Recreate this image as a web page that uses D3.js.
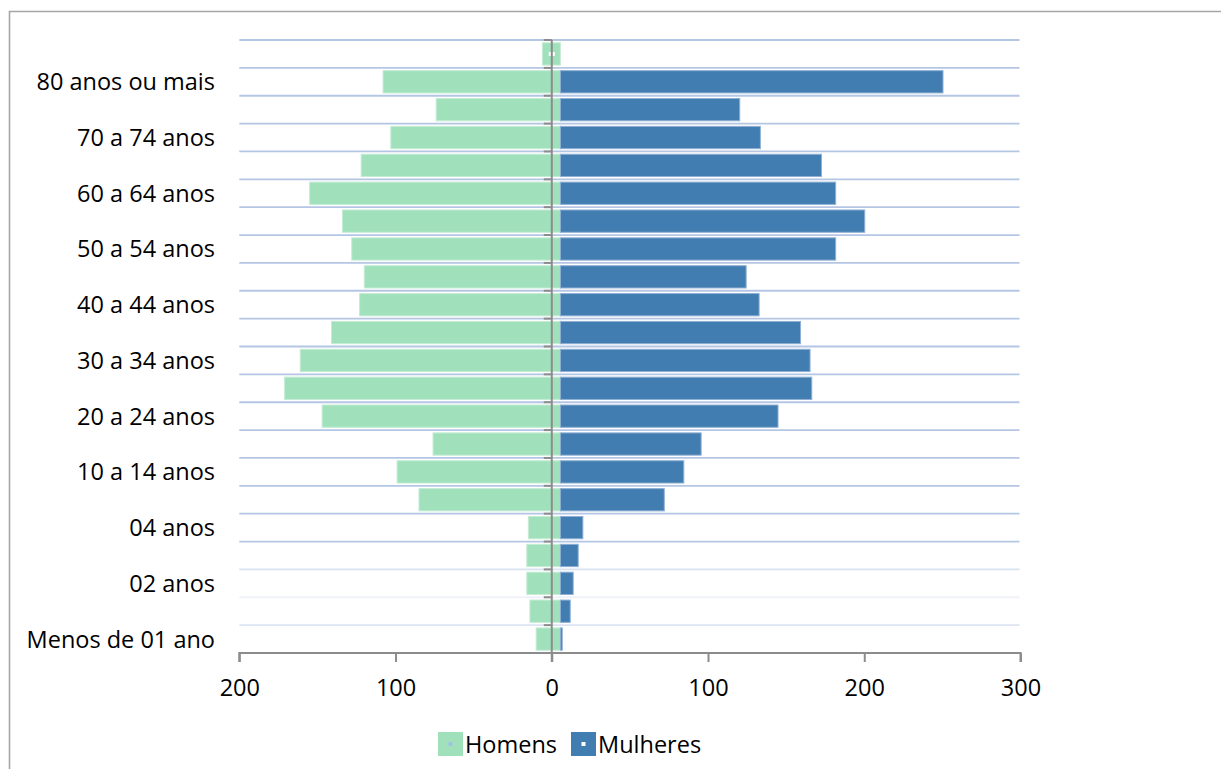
<!DOCTYPE html>
<html>
<head>
<meta charset="utf-8">
<script src="https://cdn.jsdelivr.net/npm/d3@7"></script>
<style>
  html, body { margin: 0; padding: 0; background: #fff; }
  svg { display: block; }
  text { font-family: "Open Sans", "Noto Sans", sans-serif; fill: #000; }
</style>
</head>
<body>
<svg id="chart" width="1221" height="769"></svg>
<script>
// Age groups, bottom to top
const faixas = [
  "Menos de 01 ano", "01 ano", "02 anos", "03 anos", "04 anos",
  "05 a 09 anos", "10 a 14 anos", "15 a 19 anos", "20 a 24 anos",
  "25 a 29 anos", "30 a 34 anos", "35 a 39 anos", "40 a 44 anos",
  "45 a 49 anos", "50 a 54 anos", "55 a 59 anos", "60 a 64 anos",
  "65 a 69 anos", "70 a 74 anos", "75 a 79 anos", "80 anos ou mais",
  "Idade ignorada"
];
// Men: extent to the left of zero
const homens = [10, 14, 16, 16, 15, 85, 99, 76, 147, 171, 161, 141, 123, 120, 128, 134, 155, 122, 103, 74, 108, 6];
// Women: value where the bar ends on the axis
const mulheres = [6.7, 11.8, 13.7, 16.9, 19.9, 72, 84.5, 95.6, 144.8, 166.4, 165.3, 159.2, 132.7, 124.4, 181.7, 200.3, 181.7, 172.6, 133.5, 120.3, 250.4, 0];
// Shared base between the two halves
const base = 5.5;
const xTicks = [-200, -100, 0, 100, 200, 300];
const legenda = ["Homens", "Mulheres"];

const corH = "#a0e1bc", corM = "#417db0";
const axisColor = "#8c8c8c", gridColor = "#b4c6e4";
const fontSize = 23.5;

const svg = d3.select("#chart");

// outer frame
svg.append("path")
  .attr("d", "M9.5,769 L9.5,11.5 L1221,11.5")
  .attr("fill", "none").attr("stroke", "#a6a6a6").attr("stroke-width", 1.6);

const x = d3.scaleLinear().domain([-200, 300]).range([239.3, 1020.5]);
const y = d3.scaleBand().domain(faixas.slice().reverse())
  .range([40, 653]).paddingInner(0.2).paddingOuter(0.1);
const step = y.step(), bw = y.bandwidth();
const rowTop = c => y(c) - (step - bw) / 2;

// horizontal gridlines at category boundaries
const bounds = faixas.slice().reverse().map(rowTop);
const gridOpacity = i => i === 19 ? 0.5 : i === 20 ? 0.22 : i === 21 ? 0.45 : 1;
svg.append("g").selectAll("line").data(bounds).join("line")
  .attr("x1", x(-200)).attr("x2", x(300) - 1)
  .attr("y1", d => d).attr("y2", d => d)
  .attr("stroke", gridColor).attr("stroke-width", 1.8)
  .attr("stroke-opacity", (d, i) => gridOpacity(i));

// men bars
svg.append("g").selectAll("rect").data(faixas).join("rect")
  .attr("x", (d, i) => x(-homens[i]))
  .attr("y", d => y(d))
  .attr("width", (d, i) => x(base) - x(-homens[i]))
  .attr("height", bw)
  .attr("fill", corH).attr("stroke", "#c4ecd5").attr("stroke-width", 1);

// women bars
svg.append("g").selectAll("rect").data(faixas.filter((d, i) => mulheres[i] > base)).join("rect")
  .attr("x", x(base))
  .attr("y", d => y(d))
  .attr("width", d => x(mulheres[faixas.indexOf(d)]) - x(base))
  .attr("height", bw)
  .attr("fill", corM).attr("stroke", "#8fb0d4").attr("stroke-width", 1);

// small marker on the unlabeled top row
svg.append("rect")
  .attr("x", x(0) - 3).attr("y", y("Idade ignorada") + bw / 2 - 2)
  .attr("width", 6).attr("height", 4).attr("fill", "#fff");

// category axis (vertical at zero) with boundary ticks on the left
svg.append("line")
  .attr("x1", x(0)).attr("x2", x(0)).attr("y1", 40).attr("y2", 662)
  .attr("stroke", axisColor).attr("stroke-width", 2);
svg.append("g").selectAll("line").data(bounds.concat([653])).join("line")
  .attr("x1", x(0) - 8).attr("x2", x(0))
  .attr("y1", d => d).attr("y2", d => d)
  .attr("stroke", axisColor).attr("stroke-width", 2);

// category labels (every other group)
svg.append("g").selectAll("text").data(faixas.filter((d, i) => i % 2 === 0)).join("text")
  .attr("x", 215).attr("y", d => y(d) + bw / 2)
  .attr("dy", "0.36em").attr("text-anchor", "end")
  .attr("font-size", fontSize)
  .text(d => d);

// value axis at the bottom
const xAxis = svg.append("g").attr("transform", "translate(0,653)")
  .call(d3.axisBottom(x).tickValues(xTicks).tickSize(9).tickPadding(17)
    .tickFormat(d => Math.abs(d)));
xAxis.select(".domain").attr("stroke", axisColor).attr("stroke-width", 2)
  .attr("d", `M${x(-200)},9V0H${x(300)}V9`);
xAxis.selectAll(".tick line").attr("stroke", axisColor).attr("stroke-width", 2);
xAxis.selectAll(".tick text").attr("font-size", fontSize)
  .attr("font-family", '"Open Sans", "Noto Sans", sans-serif').attr("fill", "#000");

// legend
const leg = svg.append("g");
const legItems = [
  { name: legenda[0], color: corH, dot: "#9dc3e6", sx: 438, tx: 465 },
  { name: legenda[1], color: corM, dot: "#ffffff", sx: 571, tx: 598 }
];
legItems.forEach(d => {
  leg.append("rect").attr("x", d.sx).attr("y", 732).attr("width", 25).attr("height", 24)
    .attr("fill", d.color);
  leg.append("rect").attr("x", d.sx + 10.5).attr("y", 742).attr("width", 4).attr("height", 4)
    .attr("fill", d.dot);
  leg.append("text").attr("x", d.tx).attr("y", 753).attr("font-size", fontSize).text(d.name);
});
</script>
</body>
</html>
